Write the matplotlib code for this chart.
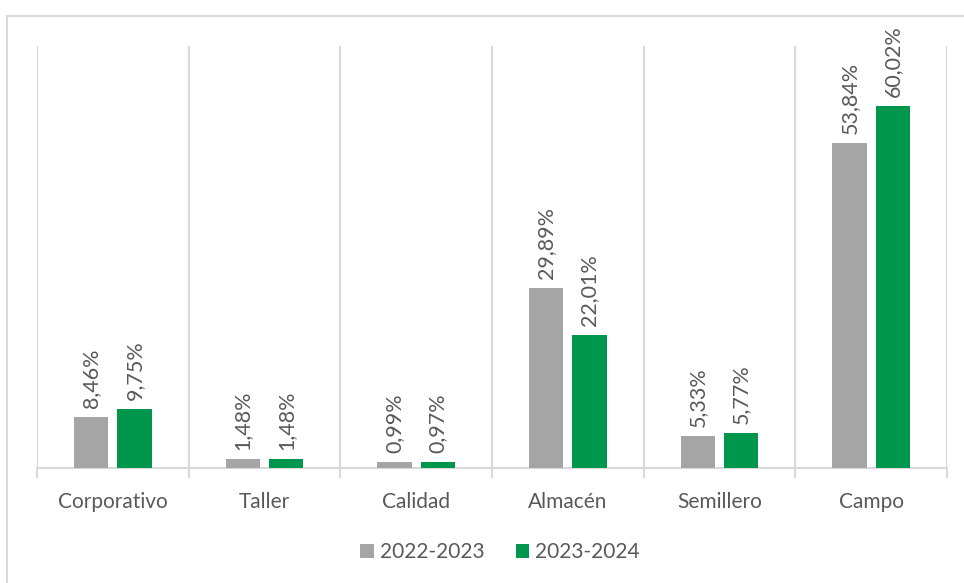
import matplotlib.pyplot as plt
import numpy as np
from matplotlib.patches import Rectangle

plt.rcParams['font.family'] = ['Lato', 'DejaVu Sans']

categorias = ['Corporativo', 'Taller', 'Calidad', 'Almacén', 'Semillero', 'Campo']
periodos = ['2022-2023', '2023-2024']
v_2022 = [8.46, 1.48, 0.99, 29.89, 5.33, 53.84]
v_2023 = [9.75, 1.48, 0.97, 22.01, 5.77, 60.02]
colores = ['#a5a5a5', '#00964b']
texto = '#595959'
linea = '#d9d9d9'

fig = plt.figure(figsize=(9.64, 5.83), dpi=100)
W, H = 964, 583
ax = fig.add_axes([37 / W, 1 - 468 / H, (947 - 37) / W, (468 - 46) / H])

# marco exterior del gráfico
fig.patches.append(Rectangle((7 / W, -0.1), 1.2, 1 - 16 / H + 0.1,
                             transform=fig.transFigure, fill=False,
                             edgecolor=linea, linewidth=1.5))

x = np.arange(len(categorias))
ancho = 0.225
desp = 0.143
for serie, valores, color, signo in [(periodos[0], v_2022, colores[0], -1),
                                     (periodos[1], v_2023, colores[1], 1)]:
    barras = ax.bar(x + signo * desp, valores, ancho, color=color, label=serie, zorder=3)
    for b, v in zip(barras, valores):
        ax.annotate(f'{v:.2f}%'.replace('.', ','),
                    (b.get_x() + b.get_width() / 2, b.get_height()),
                    xytext=(0, 6.5), textcoords='offset points',
                    rotation=90, ha='center', va='bottom',
                    fontsize=15.5, color=texto)

ax.set_xlim(-0.5, len(categorias) - 0.5)
ax.set_ylim(0, 70)
ax.set_yticks([])

# líneas verticales entre categorías
for b in np.arange(-0.5, len(categorias), 1):
    ax.axvline(b, color=linea, linewidth=1.5, zorder=1)
    ax.plot([b, b], [0, -0.022], transform=ax.get_xaxis_transform(),
            color=linea, linewidth=1.5, clip_on=False)

for s in ['top', 'right', 'left']:
    ax.spines[s].set_visible(False)
ax.spines['bottom'].set_color(linea)
ax.spines['bottom'].set_linewidth(1.5)

ax.set_xticks(x)
ax.set_xticklabels(categorias, fontsize=15, color=texto)
ax.tick_params(axis='x', length=0, pad=17)

fig.legend(loc='center', bbox_to_anchor=(500 / W, 1 - 552 / H), ncol=2,
           frameon=False, fontsize=15, labelcolor=texto,
           handlelength=0.65, handleheight=0.65, handletextpad=0.3, columnspacing=1.5)

fig.savefig('out.png', dpi=100)
